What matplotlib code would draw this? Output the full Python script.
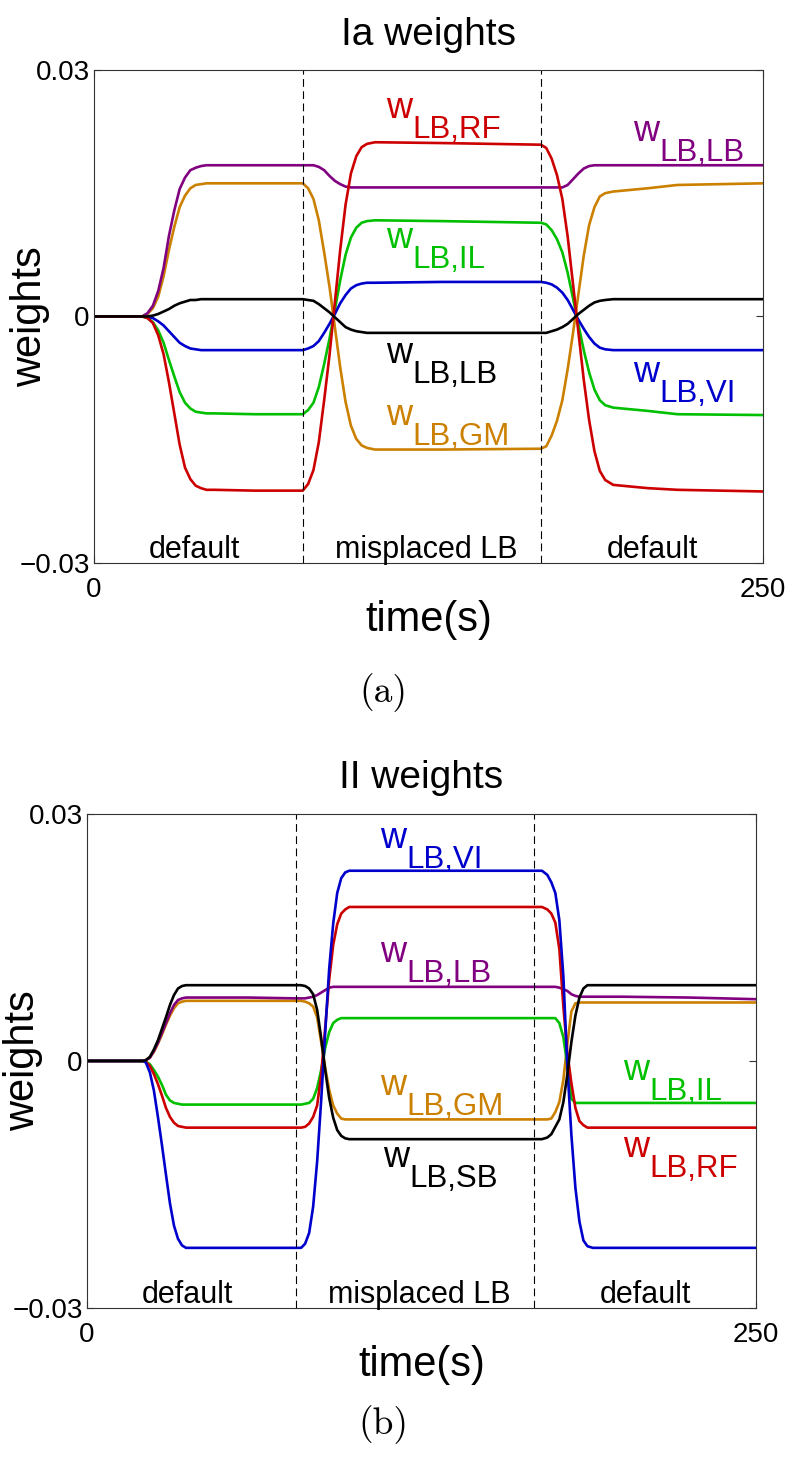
import matplotlib
matplotlib.use('Agg')
import matplotlib.pyplot as plt
import matplotlib.transforms as mtransforms

plt.rcParams['font.family'] = ['Liberation Sans', 'DejaVu Sans']

# ---------------- data: panel (a) Ia weights ----------------
time_a = [0, 18,
          20, 22, 24, 26, 28, 30, 32, 34, 36, 38, 40, 42, 45,
          60, 78,
          80, 82, 84, 86, 88, 90, 92, 94, 96, 98, 100, 102, 105,
          130, 167,
          169, 171, 173, 175, 177, 179, 181, 183, 185, 187, 189, 191, 194,
          207, 218, 250]
rf_a = [0, 0,
        -0.0002, -0.0008, -0.0023, -0.0046, -0.0080, -0.0118, -0.0156, -0.0184, -0.0198, -0.0206, -0.0209, -0.0211, -0.0211,
        -0.0212, -0.0212,
        -0.0204, -0.0187, -0.0153, -0.0102, -0.0047, 0.0017, 0.0081, 0.0136, 0.0174, 0.0195, 0.0206, 0.0210, 0.0212,
        0.0211, 0.0209,
        0.0205, 0.0192, 0.0172, 0.0143, 0.0097, 0.0039, -0.0019, -0.0077, -0.0126, -0.0164, -0.0188, -0.0199, -0.0205,
        -0.0209, -0.0211, -0.0213]
lb_a = [0, 0,
        0.0004, 0.0013, 0.0031, 0.0059, 0.0098, 0.0129, 0.0155, 0.0169, 0.0178, 0.0181, 0.0183, 0.0184, 0.0184,
        0.0184, 0.0184,
        0.0184, 0.0184, 0.0182, 0.0178, 0.0171, 0.0165, 0.0161, 0.0158, 0.0157, 0.0157, 0.0157, 0.0157, 0.0157,
        0.0157, 0.0157,
        0.0157, 0.0157, 0.0157, 0.0157, 0.0160, 0.0167, 0.0174, 0.0180, 0.0183, 0.0184, 0.0184, 0.0184, 0.0184,
        0.0184, 0.0184, 0.0184]
gm_a = [0, 0,
        0.0003, 0.0010, 0.0024, 0.0049, 0.0081, 0.0109, 0.0133, 0.0147, 0.0156, 0.0160, 0.0161, 0.0162, 0.0162,
        0.0162, 0.0162,
        0.0156, 0.0143, 0.0117, 0.0078, 0.0036, -0.0013, -0.0062, -0.0104, -0.0133, -0.0149, -0.0157, -0.0160, -0.0162,
        -0.0162, -0.0161,
        -0.0158, -0.0145, -0.0127, -0.0102, -0.0064, -0.0020, 0.0027, 0.0074, 0.0111, 0.0133, 0.0146, 0.0150, 0.0152,
        0.0156, 0.0160, 0.0162]
il_a = [0, 0,
        -0.0002, -0.0007, -0.0017, -0.0032, -0.0053, -0.0073, -0.0092, -0.0105, -0.0112, -0.0116, -0.0117, -0.0118, -0.0118,
        -0.0119, -0.0119,
        -0.0114, -0.0105, -0.0086, -0.0058, -0.0027, 0.0008, 0.0044, 0.0075, 0.0096, 0.0108, 0.0114, 0.0116, 0.0117,
        0.0116, 0.0114,
        0.0112, 0.0105, 0.0094, 0.0078, 0.0053, 0.0022, -0.0010, -0.0041, -0.0068, -0.0089, -0.0102, -0.0108, -0.0111,
        -0.0115, -0.0119, -0.0120]
vi_a = [0, 0,
        -0.0001, -0.0002, -0.0006, -0.0011, -0.0018, -0.0025, -0.0032, -0.0036, -0.0039, -0.0040, -0.0041, -0.0041, -0.0041,
        -0.0041, -0.0041,
        -0.0039, -0.0036, -0.0030, -0.0020, -0.0009, 0.0003, 0.0016, 0.0026, 0.0034, 0.0038, 0.0040, 0.0041, 0.0041,
        0.0042, 0.0042,
        0.0041, 0.0039, 0.0035, 0.0029, 0.0020, 0.0008, -0.0004, -0.0015, -0.0025, -0.0033, -0.0038, -0.0040, -0.0041,
        -0.0041, -0.0041, -0.0041]
sb_a = [0, 0,
        0.0000, 0.0001, 0.0003, 0.0006, 0.0009, 0.0013, 0.0016, 0.0018, 0.0020, 0.0020, 0.0021, 0.0021, 0.0021,
        0.0021, 0.0021,
        0.0020, 0.0019, 0.0015, 0.0010, 0.0005, -0.0001, -0.0007, -0.0013, -0.0016, -0.0018, -0.0019, -0.0020, -0.0020,
        -0.0020, -0.0020,
        -0.0020, -0.0018, -0.0016, -0.0013, -0.0009, -0.0003, 0.0003, 0.0008, 0.0013, 0.0017, 0.0019, 0.0020, 0.0021,
        0.0021, 0.0021, 0.0021]

# ---------------- data: panel (b) II weights ----------------
time_b = [0, 21,
          22, 23.5, 25, 26.5, 28, 29.5, 31, 32.5, 34, 35.5, 37, 39,
          60, 78,
          80, 81.5, 83, 84.5, 86, 87.5, 89, 90.5, 92, 93.5, 95, 96.5, 98, 100,
          110, 140, 167,
          170, 172, 173.5, 175, 176.5, 178, 179.5, 181, 182.5, 184, 185.5, 187, 189,
          200, 225, 250]
vi_b = [0, 0,
        -0.0002, -0.0014, -0.0036, -0.0068, -0.0102, -0.0138, -0.0173, -0.0200, -0.0216, -0.0224, -0.0227, -0.0227,
        -0.0227, -0.0227,
        -0.0227, -0.0222, -0.0209, -0.0177, -0.0122, -0.0048, 0.0034, 0.0112, 0.0167, 0.0204, 0.0222, 0.0229, 0.0231, 0.0231,
        0.0231, 0.0231, 0.0231,
        0.0231, 0.0226, 0.0217, 0.0204, 0.0171, 0.0103, -0.0007, -0.0090, -0.0154, -0.0195, -0.0218, -0.0225, -0.0227,
        -0.0227, -0.0227, -0.0227]
rf_b = [0, 0,
        -0.0001, -0.0006, -0.0016, -0.0028, -0.0042, -0.0057, -0.0068, -0.0075, -0.0079, -0.0080, -0.0081, -0.0081,
        -0.0081, -0.0081,
        -0.0081, -0.0080, -0.0076, -0.0068, -0.0054, -0.0017, 0.0040, 0.0099, 0.0141, 0.0166, 0.0179, 0.0184, 0.0187, 0.0187,
        0.0187, 0.0187, 0.0187,
        0.0187, 0.0184, 0.0179, 0.0168, 0.0136, 0.0066, 0.0010, -0.0027, -0.0057, -0.0073, -0.0078, -0.0081, -0.0081,
        -0.0081, -0.0081, -0.0081]
lb_b = [0, 0,
        0.0001, 0.0004, 0.0012, 0.0022, 0.0034, 0.0046, 0.0058, 0.0068, 0.0074, 0.0076, 0.0077, 0.0077,
        0.0077, 0.0076,
        0.0076, 0.0076, 0.0077, 0.0078, 0.0080, 0.0083, 0.0086, 0.0089, 0.0090, 0.0090, 0.0090, 0.0090, 0.0090, 0.0090,
        0.0090, 0.0090, 0.0090,
        0.0090, 0.0090, 0.0090, 0.0090, 0.0089, 0.0087, 0.0085, 0.0081, 0.0079, 0.0078, 0.0078, 0.0078, 0.0078,
        0.0078, 0.0077, 0.0075]
sb_b = [0, 0,
        0.0001, 0.0005, 0.0014, 0.0025, 0.0039, 0.0053, 0.0068, 0.0080, 0.0088, 0.0091, 0.0092, 0.0092,
        0.0092, 0.0092,
        0.0092, 0.0091, 0.0088, 0.0081, 0.0062, 0.0028, -0.0011, -0.0045, -0.0069, -0.0084, -0.0091, -0.0094, -0.0095, -0.0095,
        -0.0095, -0.0095, -0.0095,
        -0.0095, -0.0093, -0.0089, -0.0080, -0.0071, -0.0050, -0.0016, 0.0023, 0.0055, 0.0077, 0.0088, 0.0092, 0.0092,
        0.0092, 0.0092, 0.0092]
gm_b = [0, 0,
        0.0001, 0.0004, 0.0011, 0.0021, 0.0032, 0.0044, 0.0055, 0.0064, 0.0070, 0.0072, 0.0073, 0.0073,
        0.0073, 0.0073,
        0.0073, 0.0072, 0.0070, 0.0066, 0.0053, 0.0023, -0.0008, -0.0035, -0.0054, -0.0064, -0.0070, -0.0071, -0.0071, -0.0071,
        -0.0071, -0.0071, -0.0071,
        -0.0071, -0.0071, -0.0070, -0.0062, -0.0050, -0.0023, 0.0021, 0.0060, 0.0070, 0.0071, 0.0071, 0.0071, 0.0071,
        0.0071, 0.0071, 0.0071]
il_b = [0, 0,
        -0.0001, -0.0004, -0.0011, -0.0019, -0.0029, -0.0041, -0.0048, -0.0051, -0.0052, -0.0053, -0.0053, -0.0053,
        -0.0053, -0.0053,
        -0.0053, -0.0052, -0.0051, -0.0046, -0.0033, -0.0011, 0.0016, 0.0035, 0.0046, 0.0050, 0.0052, 0.0052, 0.0052, 0.0052,
        0.0052, 0.0052, 0.0052,
        0.0052, 0.0052, 0.0052, 0.0052, 0.0046, 0.0029, -0.0005, -0.0046, -0.0051, -0.0051, -0.0051, -0.0051, -0.0051,
        -0.0051, -0.0051, -0.0051]

switch_times = [78, 167]
region_names = ['default', 'misplaced LB', 'default']
region_centers = [37.5, 124, 208.5]
x_ticks = [0, 250]
y_ticks = [-0.03, 0, 0.03]
y_ticklabels = ['\u22120.03', '0', '0.03']

# colours
C_RED = '#cc0000'
C_PUR = '#800080'
C_ORA = '#cc8000'
C_GRN = '#00c000'
C_BLU = '#0000cc'
C_BLK = '#000000'

fig = plt.figure(figsize=(7.96, 14.66), dpi=100)
ax_a = fig.add_axes([0.1181, 0.6160, 0.8405, 0.3363])
ax_b = fig.add_axes([0.1093, 0.1078, 0.8405, 0.3370])


def style_axes(ax, title, title_pad):
    ax.set_xlim(0, 250)
    ax.set_ylim(-0.03, 0.03)
    ax.set_xticks(x_ticks)
    ax.set_xticklabels([str(v) for v in x_ticks])
    ax.set_yticks(y_ticks)
    ax.set_yticklabels(y_ticklabels)
    ax.tick_params(axis='both', direction='in', length=5, width=0.8,
                   top=True, right=True, labelsize=20, color='#333333')
    ax.tick_params(axis='y', pad=3)
    ax.tick_params(axis='x', pad=10)
    for sp in ax.spines.values():
        sp.set_linewidth(0.8)
        sp.set_color('#333333')
    ax.set_title(title, fontsize=28, pad=title_pad)
    ax.set_xlabel('time(s)', fontsize=30, va='top')
    ax.set_ylabel('weights', fontsize=30)
    ax.xaxis.set_label_coords(0.5, -0.075)
    ax.yaxis.set_label_coords(-0.0658, 0.5)
    for ts in switch_times:
        ax.axvline(ts, color='k', lw=0.8, linestyle=(0, (7, 4)))
    trans = mtransforms.blended_transform_factory(ax.transData, ax.transAxes)
    for name, c in zip(region_names, region_centers):
        ax.text(c, 0.011, name, transform=trans, ha='center', va='baseline',
                fontsize=22)


def wlabel(ax, t, v, sub, color):
    ax.text(t, v, 'w', color=color, fontsize=26, ha='left', va='baseline')
    ax.annotate(sub, xy=(t, v), xytext=(18.7, -14.5), textcoords='offset points',
                color=color, fontsize=22.5, ha='left', va='baseline')


lw = 1.9
# panel (a)
ax_a.plot(time_a, gm_a, color=C_ORA, lw=lw)
ax_a.plot(time_a, lb_a, color=C_PUR, lw=lw)
ax_a.plot(time_a, il_a, color=C_GRN, lw=lw)
ax_a.plot(time_a, vi_a, color=C_BLU, lw=lw)
ax_a.plot(time_a, rf_a, color=C_RED, lw=lw)
ax_a.plot(time_a, sb_a, color=C_BLK, lw=lw)
style_axes(ax_a, 'Ia weights', 18)
wlabel(ax_a, 109.1, 0.02415, 'LB,RF', C_RED)
wlabel(ax_a, 201.4, 0.02135, 'LB,LB', C_PUR)
wlabel(ax_a, 109.1, 0.00833, 'LB,IL', C_GRN)
wlabel(ax_a, 109.1, -0.00566, 'LB,LB', C_BLK)
wlabel(ax_a, 109.1, -0.0132, 'LB,GM', C_ORA)
wlabel(ax_a, 201.4, -0.00797, 'LB,VI', C_BLU)

# panel (b)
ax_b.plot(time_b, gm_b, color=C_ORA, lw=lw)
ax_b.plot(time_b, lb_b, color=C_PUR, lw=lw)
ax_b.plot(time_b, il_b, color=C_GRN, lw=lw)
ax_b.plot(time_b, rf_b, color=C_RED, lw=lw)
ax_b.plot(time_b, vi_b, color=C_BLU, lw=lw)
ax_b.plot(time_b, sb_b, color=C_BLK, lw=lw)
style_axes(ax_b, 'II weights', 18.7)
wlabel(ax_b, 109.5, 0.02587, 'LB,VI', C_BLU)
wlabel(ax_b, 109.5, 0.01202, 'LB,LB', C_PUR)
wlabel(ax_b, 109.5, -0.00413, 'LB,GM', C_ORA)
wlabel(ax_b, 110.6, -0.01288, 'LB,SB', C_BLK)
wlabel(ax_b, 200.3, -0.00231, 'LB,IL', C_GRN)
wlabel(ax_b, 200.3, -0.01166, 'LB,RF', C_RED)

fig.text(0.481, 0.5273, '(a)', family='cmr10', fontsize=27, ha='center', va='center')
fig.text(0.481, 0.0280, '(b)', family='cmr10', fontsize=27, ha='center', va='center')

fig.savefig('out.png', dpi=100)
